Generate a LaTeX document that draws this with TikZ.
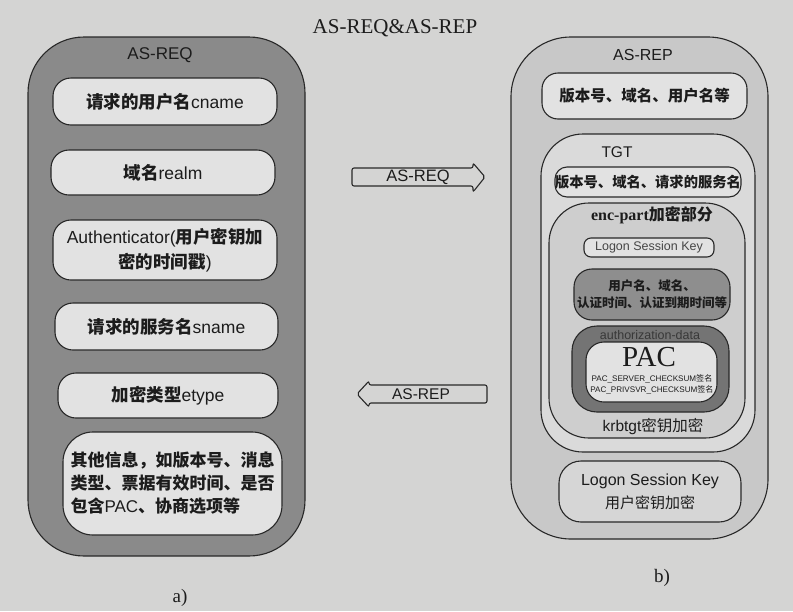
\documentclass[tikz,border=0pt]{standalone}
\usepackage{fontspec}
\setmainfont{Liberation Sans}
\newfontfamily\cjk{Noto Sans CJK SC}
\newfontfamily\titlefont{Liberation Serif}
\newcommand\zht[1]{{\cjk #1}}
\newcommand\zhb[1]{{\cjk\bfseries #1}}

\definecolor{bgc}{RGB}{212,212,211}
\definecolor{leftgray}{RGB}{138,138,138}
\definecolor{boxfill}{RGB}{226,226,226}
\definecolor{repfill}{RGB}{200,200,200}
\definecolor{tgtfill}{RGB}{218,218,218}
\definecolor{encfill}{RGB}{206,206,206}
\definecolor{darkbox}{RGB}{142,142,142}
\definecolor{authfill}{RGB}{116,116,116}
\definecolor{linec}{RGB}{40,40,40}
\definecolor{textc}{RGB}{28,28,28}
\definecolor{softtext}{RGB}{70,70,70}

\begin{document}
\begin{tikzpicture}[x=1pt,y=-1pt,
  every node/.style={text=textc},
  frame/.style={draw=linec, line width=1.1pt, inner sep=0pt},
  outerbox/.style={frame, rounded corners=56pt},
  databox/.style={frame, fill=boxfill, rounded corners=18pt, align=center,
    font=\fontsize{17.5}{25}\selectfont},
  rbox/.style={frame, fill=boxfill, rounded corners=16pt, align=center,
    font=\fontsize{15.5}{20}\selectfont},
  blockarrow/.style={draw=linec, line width=1.1pt, fill=bgc, rounded corners=2pt},
  lbl/.style={inner sep=0pt, font=\fontsize{16}{19}\selectfont}
]
% page
\fill[bgc] (0,0) rectangle (793,611);
\useasboundingbox (0,0) rectangle (793,611);

% title
\node[inner sep=0pt, font=\titlefont\fontsize{21}{24}\selectfont] (title) at (395,28) {AS-REQ\&AS-REP};

% ---------- AS-REQ message ----------
\node[outerbox, fill=leftgray, minimum width=277pt, minimum height=519pt] (req) at (166.5,296.5) {};
\node[lbl, font=\fontsize{17}{20}\selectfont] (reqtitle) at (160,55) {AS-REQ};

\node[databox, minimum width=224pt, minimum height=47pt] (cname) at (165,101.5)
  {\zhb{请求的用户名}cname};
\node[databox, minimum width=224pt, minimum height=45pt] (realm) at (163,172.5)
  {\zhb{域名}realm};
\node[databox, minimum width=224pt, minimum height=60pt] (auth) at (165,250)
  {Authenticator(\zhb{用户密钥加}\\\zhb{密的时间戳})};
\node[databox, minimum width=223pt, minimum height=47pt] (sname) at (166.5,326.5)
  {\zhb{请求的服务名}sname};
\node[databox, minimum width=220pt, minimum height=45pt] (etype) at (168,395.5)
  {\zhb{加密类型}etype};
\node[databox, rounded corners=30pt, align=left, minimum width=219pt, minimum height=103pt,
  font=\fontsize{17}{23}\selectfont] (other) at (172.5,483.5)
  {\zhb{其他信息，如版本号、消息}\\\zhb{类型、票据有效时间、是否}\\\zhb{包含}PAC\zhb{、协商选项等}};

\node[inner sep=0pt, font=\titlefont\fontsize{19}{22}\selectfont] (capa) at (180,598) {a)};

% ---------- exchange arrows ----------
\draw[blockarrow] (352,168) -- (473,168) -- (473,163) -- (485,177) -- (473,192)
  -- (473,186) -- (352,186) -- cycle;
\node[lbl, font=\fontsize{16.5}{19}\selectfont] (reqarrow) at (418,177) {AS-REQ};

\draw[blockarrow] (487,385) -- (369,385) -- (369,381) -- (357,394) -- (369,407)
  -- (369,403) -- (487,403) -- cycle;
\node[lbl, font=\fontsize{15.5}{19}\selectfont] (reparrow) at (421,394) {AS-REP};

% ---------- AS-REP message ----------
\node[outerbox, fill=repfill, rounded corners=60pt, minimum width=257pt, minimum height=502pt] (rep) at (639.5,288) {};
\node[lbl] (reptitle) at (643,55) {AS-REP};

\node[rbox, minimum width=205pt, minimum height=46pt] (hdr) at (644.5,96)
  {\zhb{版本号、域名、用户名等}};

% TGT
\node[outerbox, fill=tgtfill, rounded corners=42pt, minimum width=214pt, minimum height=318pt] (tgt) at (648,293) {};
\node[lbl, font=\fontsize{15.5}{19}\selectfont] (tgttitle) at (617,152) {TGT};
\node[rbox, rounded corners=12pt, minimum width=186pt, minimum height=30pt,
  font=\fontsize{14.3}{18}\selectfont] (tgthdr) at (648,182)
  {\zhb{版本号、域名、请求的服务名}};

% encrypted part of the TGT
\node[outerbox, fill=encfill, rounded corners=40pt, minimum width=196pt, minimum height=235pt] (enc) at (647,320.5) {};
\node[lbl] (enctitle) at (652,215)
  {{\titlefont\bfseries enc-part}\zhb{加密部分}};

\node[frame, fill=boxfill, rounded corners=7pt, minimum width=130pt, minimum height=19pt,
  font=\fontsize{12.5}{15}\selectfont, text=softtext] (lsk) at (649,247.5) {Logon Session Key};

\node[frame, fill=darkbox, rounded corners=18pt, minimum width=156pt, minimum height=51pt,
  align=center, font=\fontsize{12.5}{17}\selectfont] (uinfo) at (652,294.5)
  {\zhb{用户名、域名、}\\\zhb{认证时间、认证到期时间等}};

\node[frame, fill=authfill, rounded corners=25pt, minimum width=157pt, minimum height=86pt] (authdata) at (650.5,369) {};
\node[lbl, font=\fontsize{12.5}{15}\selectfont, text=softtext!80!black] (authtitle) at (650,335.5) {authorization-data};
\node[frame, fill=boxfill, rounded corners=18pt, minimum width=131pt, minimum height=60pt] (pac) at (651.5,372) {};
\node[inner sep=0pt, font=\titlefont\fontsize{29}{30}\selectfont] (pactitle) at (649,357.5) {PAC};
\node[inner sep=0pt, align=center, font=\fontsize{8.1}{11}\selectfont] (pacsig) at (652,384.5)
  {PAC\_SERVER\_CHECKSUM\zht{签名}\\PAC\_PRIVSVR\_CHECKSUM\zht{签名}};

\node[lbl, font=\fontsize{15.5}{19}\selectfont] (krbtgt) at (653,427) {krbtgt\zht{密钥加密}};

% session key for the client
\node[frame, fill=encfill!60!boxfill, rounded corners=22pt, minimum width=182pt, minimum height=61pt,
  align=center, font=\fontsize{16}{23}\selectfont] (clientkey) at (650,491.5)
  {Logon Session Key\\\zht{\fontsize{15}{23}\selectfont 用户密钥加密}};

\node[inner sep=0pt, font=\titlefont\fontsize{19}{22}\selectfont] (capb) at (662,578) {b)};
\end{tikzpicture}
\end{document}
